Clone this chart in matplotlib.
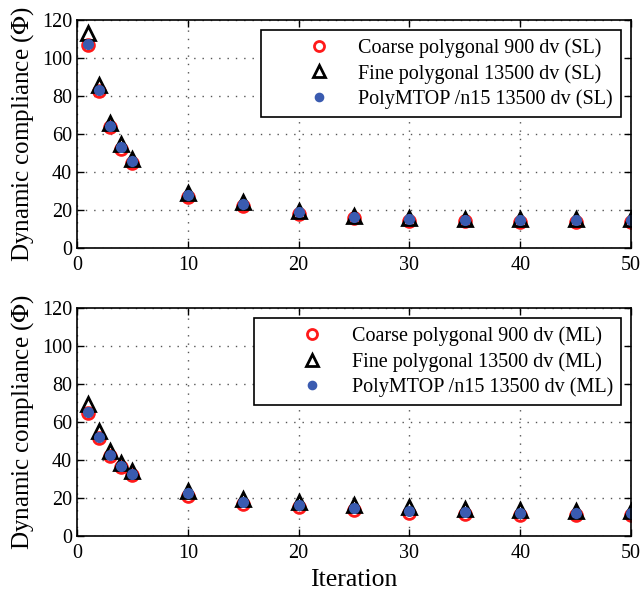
import matplotlib
matplotlib.use('agg')
import numpy as np
import matplotlib.pyplot as plt

# iterations shown
it = [1, 2, 3, 4, 5, 10, 15, 20, 25, 30, 35, 40, 45, 50]

# single load (SL)
sl_coarse = [107, 82.5, 63.5, 52, 44.5, 27, 22, 18, 15.5, 14, 14, 13.8, 13.8, 13.8]
sl_fine   = [113, 85.5, 66, 54.5, 47, 29, 24, 19.5, 17, 15.5, 15.3, 15, 15, 15]
sl_poly   = [107.5, 83, 64, 53, 45.5, 28, 23, 19, 16.5, 15, 14.8, 14.5, 14.5, 14.5]

# multiple load (ML)
ml_coarse = [64.5, 51.5, 42, 36.5, 32, 21, 17, 15.5, 13.5, 12.3, 11.8, 11.3, 11, 11]
ml_fine   = [69.5, 55, 44.5, 38.5, 34, 23.5, 19.5, 18, 16.5, 15, 14, 13.5, 13, 13]
ml_poly   = [65, 52, 42.5, 37, 32.5, 22.5, 18, 16.5, 14.8, 13.2, 12.8, 12.3, 12, 12]

plt.rcParams['font.family'] = ['Liberation Serif', 'DejaVu Serif']
plt.rcParams['mathtext.fontset'] = 'stix'

fig = plt.figure(figsize=(6.42, 5.96), dpi=100)
ax1 = fig.add_axes([0.12, 0.584, 0.863, 0.3826])
ax2 = fig.add_axes([0.12, 0.1007, 0.863, 0.3826])

blue = '#3a5bb0'

def panel(ax, c, f, p, tag):
    ax.plot(it, c, 'o', ls='none', ms=8.5, mfc='none', mec='#ff1a1a', mew=2,
            label='Coarse polygonal 900 dv (%s)' % tag)
    ax.plot(it, f, '^', ls='none', ms=10.5, mfc='none', mec='k', mew=2,
            label='Fine polygonal 13500 dv (%s)' % tag)
    ax.plot(it, p, 'o', ls='none', ms=7, mfc=blue, mec=blue,
            label='PolyMTOP /n15 13500 dv (%s)' % tag)
    ax.set_xlim(0, 50)
    ax.set_ylim(0, 120)
    ax.set_xticks(range(0, 51, 10))
    ax.set_yticks(range(0, 121, 20))
    ax.grid(True, ls=(0, (1, 5)), color='#555555', lw=1)
    ax.tick_params(direction='in', top=True, right=True, labelsize=14.5, length=5, width=1)
    ax.tick_params(axis='x', pad=6)
    for s in ax.spines.values():
        s.set_linewidth(1.2)
    ax.set_ylabel('Dynamic compliance ($\\Phi$)', fontsize=18, labelpad=4)
    leg = ax.legend(loc='upper right', fontsize=14.5, fancybox=False, framealpha=1,
                    edgecolor='k', borderpad=0.4, handletextpad=-0.55, labelspacing=0.3,
                    handlelength=5.0, borderaxespad=0.5, markerscale=0.85)
    leg.get_frame().set_linewidth(1.2)

panel(ax1, sl_coarse, sl_fine, sl_poly, 'SL')
panel(ax2, ml_coarse, ml_fine, ml_poly, 'ML')
ax2.set_xlabel('Iteration', fontsize=18.5, labelpad=4)

fig.savefig('out.png', dpi=100)
